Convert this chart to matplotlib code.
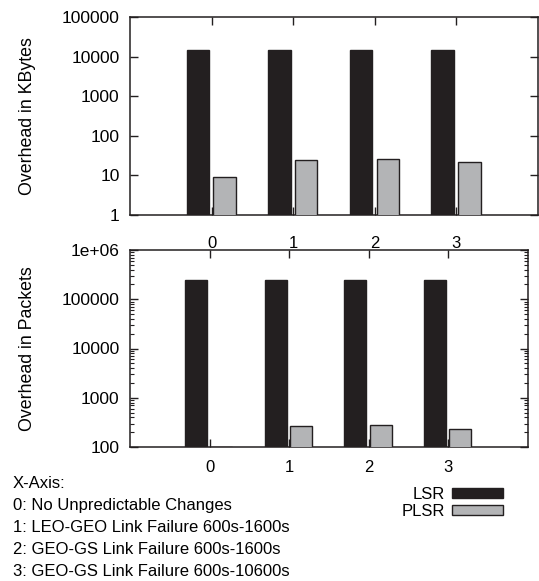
import numpy as np
import matplotlib
matplotlib.use('Agg')
import matplotlib.pyplot as plt
from matplotlib.patches import Patch
from matplotlib.ticker import LogLocator, NullFormatter

plt.rcParams['font.family'] = ['Liberation Sans', 'DejaVu Sans']
plt.rcParams['font.size'] = 12

cases = [0, 1, 2, 3]
lsr_kbytes = [14500, 14500, 14700, 14400]
plsr_kbytes = [8.9, 25, 25.5, 21.6]
lsr_packets = [247000, 246000, 249000, 245000]
plsr_packets = [101, 272, 275, 234]

kb_ticks = [1, 10, 100, 1000, 10000, 100000]
kb_labels = ['1', '10', '100', '1000', '10000', '100000']
pk_ticks = [100, 1000, 10000, 100000, 1000000]
pk_labels = ['100', '1000', '10000', '100000', '1e+06']

notes = ['X-Axis:',
         '0: No Unpredictable Changes',
         '1: LEO-GEO Link Failure 600s-1600s',
         '2: GEO-GS Link Failure 600s-1600s',
         '3: GEO-GS Link Failure 600s-10600s']

black = '#231f20'
grey = '#b3b4b6'

fig = plt.figure(figsize=(5.39, 5.81), dpi=100)
ax1 = fig.add_axes([130/539, 1-215/581, 408/539, 198/581])
ax2 = fig.add_axes([130/539, 1-447/581, 398/539, 197/581])

x = np.array(cases)
w = 0.275


def style(ax, ticks, labels, ylim, pad):
	ax.set_yscale('log')
	ax.set_ylim(*ylim)
	ax.set_xlim(-1, 4)
	ax.set_yticks(ticks)
	ax.set_yticklabels(labels)
	ax.yaxis.set_minor_locator(LogLocator(base=10, subs=np.arange(2, 10)))
	ax.yaxis.set_minor_formatter(NullFormatter())
	ax.set_xticks(cases)
	ax.tick_params(axis='both', which='major', direction='in', length=6, width=1,
				   top=True, right=True, color=black)
	ax.tick_params(axis='y', which='minor', direction='in', length=3, width=0.8,
				   right=True, color=black)
	ax.tick_params(axis='x', which='major', pad=pad)
	ax.tick_params(axis='y', which='major', pad=7.5, labelsize=12.5)
	for s in ax.spines.values():
		s.set_linewidth(1.1)
		s.set_color(black)


ax1.bar(x - 0.17, lsr_kbytes, w, color=black, edgecolor=black, linewidth=1, zorder=3)
ax1.bar(x + 0.16, plsr_kbytes, w, color=grey, edgecolor=black, linewidth=1, zorder=3)
style(ax1, kb_ticks, kb_labels, (1, 100000), 15)
ax1.set_ylabel('Overhead in KBytes', fontsize=12.8)

ax2.bar(x - 0.17, lsr_packets, w, color=black, edgecolor=black, linewidth=1, zorder=3)
ax2.bar(x + 0.15, plsr_packets, w, color=grey, edgecolor=black, linewidth=1, zorder=3)
style(ax2, pk_ticks, pk_labels, (100, 1000000), 9)
ax2.set_ylabel('Overhead in Packets', fontsize=12.8)
ax1.yaxis.set_label_coords(-94/408, 0.5)
ax2.yaxis.set_label_coords(-94/398, 0.5)

baselines = [488, 510, 532, 554, 576]
for t, yy in zip(notes, baselines):
	fig.text(13/539, 1-yy/581, t, ha='left', va='baseline')

handles = [Patch(facecolor=black, edgecolor=black, linewidth=1, label='LSR'),
		   Patch(facecolor=grey, edgecolor=black, linewidth=1, label='PLSR')]
fig.legend(handles=handles, loc='upper right', bbox_to_anchor=(503/539, 1-487/581),
		   frameon=False, markerfirst=False, handlelength=3.05, handleheight=0.5,
		   handletextpad=0.45, labelspacing=0.1, borderpad=0, borderaxespad=0)

fig.savefig('out.png', dpi=100)
